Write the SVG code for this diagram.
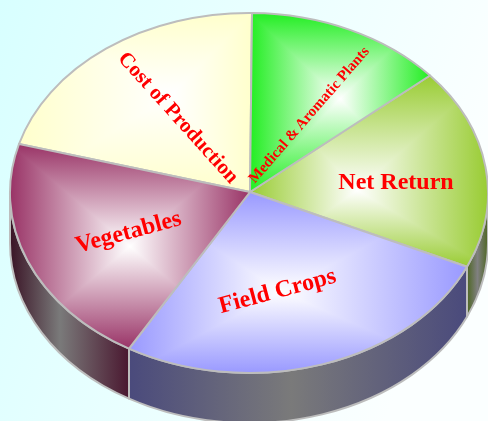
<svg xmlns="http://www.w3.org/2000/svg" xmlns:xlink="http://www.w3.org/1999/xlink" width="488" height="421" viewBox="0 0 488 421">
<style>
.edge{fill:none;stroke:#bdbdbd;stroke-width:2;stroke-linejoin:round}
.blend{mix-blend-mode:darken}
.lbl{font-family:"Liberation Serif","Times New Roman",serif;font-weight:bold;fill:#ff0000;text-anchor:middle}
</style>
<defs>
<linearGradient id="bg" x1="0" y1="0" x2="1" y2="0.3">
<stop offset="0" stop-color="#d8ffff"/><stop offset="1" stop-color="#fbffff"/>
</linearGradient>
<linearGradient id="costH" x1="0" y1="0" x2="1" y2="0"><stop offset="0" stop-color="#ffffcc"/><stop offset="0.66" stop-color="#ffffff"/><stop offset="1" stop-color="#ffffcc"/></linearGradient>
<linearGradient id="costV" x1="0" y1="0" x2="0" y2="1"><stop offset="0" stop-color="#ffffcc"/><stop offset="0.45" stop-color="#ffffff"/><stop offset="1" stop-color="#ffffcc"/></linearGradient>
<linearGradient id="medH" x1="0" y1="0" x2="1" y2="0"><stop offset="0" stop-color="#22ee22"/><stop offset="0.5" stop-color="#ffffff"/><stop offset="1" stop-color="#22ee22"/></linearGradient>
<linearGradient id="medV" x1="0" y1="0" x2="0" y2="1"><stop offset="0" stop-color="#22ee22"/><stop offset="0.48" stop-color="#ffffff"/><stop offset="1" stop-color="#22ee22"/></linearGradient>
<linearGradient id="netH" x1="0" y1="0" x2="1" y2="0"><stop offset="0" stop-color="#99cc33"/><stop offset="0.45" stop-color="#ffffff"/><stop offset="1" stop-color="#99cc33"/></linearGradient>
<linearGradient id="netV" x1="0" y1="0" x2="0" y2="1"><stop offset="0" stop-color="#99cc33"/><stop offset="0.6" stop-color="#ffffff"/><stop offset="1" stop-color="#99cc33"/></linearGradient>
<linearGradient id="fieldH" x1="0" y1="0" x2="1" y2="0"><stop offset="0" stop-color="#9999ff"/><stop offset="0.45" stop-color="#ffffff"/><stop offset="1" stop-color="#9999ff"/></linearGradient>
<linearGradient id="fieldV" x1="0" y1="0" x2="0" y2="1"><stop offset="0" stop-color="#9999ff"/><stop offset="0.55" stop-color="#ffffff"/><stop offset="1" stop-color="#9999ff"/></linearGradient>
<linearGradient id="vegH" x1="0" y1="0" x2="1" y2="0"><stop offset="0" stop-color="#993366"/><stop offset="0.5" stop-color="#ffffff"/><stop offset="1" stop-color="#993366"/></linearGradient>
<linearGradient id="vegV" x1="0" y1="0" x2="0" y2="1"><stop offset="0" stop-color="#993366"/><stop offset="0.5" stop-color="#ffffff"/><stop offset="1" stop-color="#993366"/></linearGradient>
<linearGradient id="vegS" gradientUnits="userSpaceOnUse" x1="10" y1="0" x2="129" y2="0"><stop offset="0" stop-color="#3a1426"/><stop offset="0.42" stop-color="#7a7a7a"/><stop offset="1" stop-color="#4a1830"/></linearGradient>
<linearGradient id="fieldS" gradientUnits="userSpaceOnUse" x1="129" y1="0" x2="467" y2="0"><stop offset="0" stop-color="#4a4a7c"/><stop offset="0.48" stop-color="#7a7a7a"/><stop offset="1" stop-color="#4a4a7c"/></linearGradient>
<linearGradient id="netS" gradientUnits="userSpaceOnUse" x1="467" y1="0" x2="488" y2="0"><stop offset="0" stop-color="#4d6622"/><stop offset="0.5" stop-color="#808080"/><stop offset="1" stop-color="#4d6622"/></linearGradient>
<path id="pCost" d="M250,192 L19,144 A239,180 0 0 1 252,13 Z"/>
<path id="pMed" d="M250,192 L252,13 A239,180 0 0 1 430,75.5 Z"/>
<path id="pNet" d="M250,192 L430,75.5 A239,180 0 0 1 467,266.8 Z"/>
<path id="pField" d="M250,192 L467,266.8 A239,180 0 0 1 129,348.7 Z"/>
<path id="pVeg" d="M250,192 L129,348.7 A239,180 0 0 1 19,144 Z"/>
</defs>
<rect width="488" height="421" fill="url(#bg)"/>
<g id="sides">
<path d="M488,193 A239,180 0 0 1 467,266.8 L467,316.8 A239,180 0 0 0 488,243 Z" fill="url(#netS)" class="edge" style="fill:url(#netS)"/>
<path d="M467,266.8 A239,180 0 0 1 129,348.7 L129,398.7 A239,180 0 0 0 467,316.8 Z" class="edge" style="fill:url(#fieldS)"/>
<path d="M129,348.7 A239,180 0 0 1 10,193 L10,243 A239,180 0 0 0 129,398.7 Z" class="edge" style="fill:url(#vegS)"/>
</g>
<g id="cost" style="isolation:isolate">
<use xlink:href="#pCost" fill="url(#costH)"/>
<use xlink:href="#pCost" fill="url(#costV)" class="blend"/>
<use xlink:href="#pCost" class="edge"/>
<text class="lbl" font-size="21" transform="translate(179,117) rotate(48)" x="0" y="7">Cost of Production</text>
</g>
<g id="net" style="isolation:isolate">
<use xlink:href="#pNet" fill="url(#netH)"/>
<use xlink:href="#pNet" fill="url(#netV)" class="blend"/>
<use xlink:href="#pNet" class="edge"/>
<text class="lbl" font-size="24" x="396" y="189">Net Return</text>
</g>
<g id="field" style="isolation:isolate">
<use xlink:href="#pField" fill="url(#fieldH)"/>
<use xlink:href="#pField" fill="url(#fieldV)" class="blend"/>
<use xlink:href="#pField" class="edge"/>
<text class="lbl" font-size="24" transform="translate(277,290) rotate(-15)" x="0" y="8">Field Crops</text>
</g>
<g id="veg" style="isolation:isolate">
<use xlink:href="#pVeg" fill="url(#vegH)"/>
<use xlink:href="#pVeg" fill="url(#vegV)" class="blend"/>
<use xlink:href="#pVeg" class="edge"/>
<text class="lbl" font-size="24" transform="translate(128,231) rotate(-15)" x="0" y="8">Vegetables</text>
</g>
<g id="medical" style="isolation:isolate">
<use xlink:href="#pMed" fill="url(#medH)"/>
<use xlink:href="#pMed" fill="url(#medV)" class="blend"/>
<use xlink:href="#pMed" class="edge"/>
<text class="lbl" font-size="15" transform="translate(308.5,114.5) rotate(-49)" x="0" y="5">Medical &amp; Aromatic Plants</text>
</g>
</svg>
